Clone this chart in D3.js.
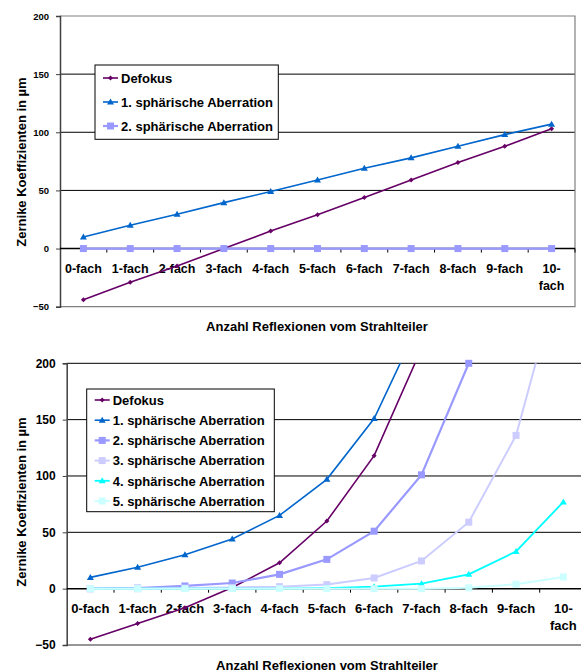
<!DOCTYPE html>
<meta charset="utf-8">
<html>
<script src="https://d3js.org/d3.v7.min.js"></script>
<style>
  body { margin: 0; background: #fff; }
  text { font-family: "Liberation Sans", Arial, sans-serif; font-weight: bold; fill: #000; }
</style>
<body>
<div id="chart"></div>
<script>

// categories on the x axis
var categories = ["0-fach", "1-fach", "2-fach", "3-fach", "4-fach", "5-fach",
                  "6-fach", "7-fach", "8-fach", "9-fach", "10-fach"];
var yTicks = [-50, 0, 50, 100, 150, 200];

// upper chart
var top_defokus = [-44, -29, -15, 0, 15, 29, 44, 59, 74, 88, 103];
var top_sph1    = [10, 20, 29.5, 39.5, 49, 59, 69, 78, 88, 98, 107];
var top_sph2    = [0, 0, 0, 0, 0, 0, 0, 0, 0, 0, 0];

// lower chart (values above 200 run out of the plot area)
var bot_defokus = [-45, -31, -17, 1, 23, 60, 118, 213, null, null, null];
var bot_sph1    = [10, 19, 30, 44, 65, 97, 151, 240, null, null, null];
var bot_sph2    = [0, 0.5, 2.4, 5, 12.7, 26, 51, 101, 200, null, null];
var bot_sph3    = [0, 0, 0.5, 1, 1.8, 3.6, 9.5, 24.6, 59, 136, 290];
var bot_sph4    = [0, 0, 0, 0, 0, 0.5, 1.8, 4.4, 12.7, 33, 77];
var bot_sph5    = [0, 0, 0, 0, 0, 0, 0, 0, 0.8, 3.9, 10.4];

var seriesNames = ["Defokus", "1. sphärische Aberration", "2. sphärische Aberration",
                   "3. sphärische Aberration", "4. sphärische Aberration", "5. sphärische Aberration"];

var colors = ["#660066", "#0066cc", "#9999ff", "#ccccff", "#00ffff", "#ccffff"];
var markers = ["diamond", "triangle", "square", "square", "triangle", "square"];
var widths = [1.6, 1.6, 2.2, 2, 1.8, 2];

var svg = d3.select("#chart").append("svg")
    .attr("width", 581)
    .attr("height", 671);

function marker(g, type, x, y, color) {
  if (type == "square") {
    g.append("rect").attr("x", x - 3.5).attr("y", y - 3.5)
      .attr("width", 7).attr("height", 7).attr("fill", color);
  } else if (type == "triangle") {
    g.append("path").attr("d", "M" + x + "," + (y - 3.5) + "L" + (x + 3.5) + "," + (y + 2.5) + "L" + (x - 3.5) + "," + (y + 2.5) + "Z")
      .attr("fill", color);
  } else {
    g.append("path").attr("d", "M" + x + "," + (y - 2.5) + "L" + (x + 2.5) + "," + y + "L" + x + "," + (y + 2.5) + "L" + (x - 2.5) + "," + y + "Z")
      .attr("fill", color);
  }
}

function drawChart(c) {
  var g = svg.append("g");

  var x = d3.scaleBand().domain(categories).range([c.left, c.right]);
  var y = d3.scaleLinear().domain([-50, 200]).range([c.bottom, c.top]);

  // gridlines
  g.selectAll("line.grid")
    .data([50, 100, 150].concat(c.topGrid ? [200] : []))
    .enter().append("line")
      .attr("x1", c.left).attr("x2", c.right)
      .attr("y1", function(d) { return y(d); }).attr("y2", function(d) { return y(d); })
      .attr("stroke", "#000").attr("stroke-width", 1);

  // plot frame
  if (c.frame) {
    g.append("path")
      .attr("d", "M" + c.left + "," + y(200) + "H" + c.right + "V" + y(-50) + "H" + c.left)
      .attr("fill", "none").attr("stroke", "#808080").attr("stroke-width", 1.2);
  } else {
    g.append("line").attr("x1", c.left).attr("x2", c.right)
      .attr("y1", y(-50)).attr("y2", y(-50)).attr("stroke", "#303030").attr("stroke-width", 1.2);
  }

  // y axis
  var yAxis = g.append("g")
    .attr("transform", "translate(" + c.left + ",0)")
    .call(d3.axisLeft(y).tickValues(yTicks).tickSize(4).tickPadding(c.yPad));
  yAxis.select(".domain").attr("stroke", "#404040").attr("stroke-width", 1.5);
  yAxis.selectAll(".tick line").attr("stroke", "#404040");
  yAxis.selectAll("text").style("font-size", c.yFont + "px").attr("fill", "#000");

  // x axis at zero
  var zero = y(0);
  g.append("line").attr("x1", c.left).attr("x2", c.right)
    .attr("y1", zero).attr("y2", zero).attr("stroke", "#000").attr("stroke-width", 1.5);
  g.selectAll("line.xtick")
    .data(categories.slice(1).concat(["end"]))
    .enter().append("line")
      .attr("x1", function(d, i) { return c.left + x.step() * (i + 1); })
      .attr("x2", function(d, i) { return c.left + x.step() * (i + 1); })
      .attr("y1", zero).attr("y2", zero + 4)
      .attr("stroke", "#000");

  categories.forEach(function(cat) {
    var cx = x(cat) + x.bandwidth() / 2;
    var t = g.append("text")
      .attr("x", cx).attr("y", zero + c.labelDy)
      .attr("text-anchor", "middle")
      .style("font-size", c.xFont + "px");
    if (cat == "10-fach") {
      t.append("tspan").attr("x", cx).text("10-");
      t.append("tspan").attr("x", cx).attr("dy", 17).text("fach");
    } else {
      t.text(cat);
    }
  });

  // titles
  g.append("text")
    .attr("x", c.xTitleX).attr("y", c.xTitleY)
    .attr("text-anchor", "middle")
    .style("font-size", "13px")
    .text("Anzahl Reflexionen vom Strahlteiler");

  g.append("text")
    .attr("transform", "translate(" + c.yTitleX + "," + c.yTitleY + ") rotate(-90)")
    .attr("text-anchor", "middle")
    .style("font-size", "13px")
    .text("Zernike Koeffizienten in µm");

  // series
  var clipId = "clip" + c.id;
  svg.append("clipPath").attr("id", clipId)
    .append("rect").attr("x", c.left).attr("y", c.top)
    .attr("width", c.right - c.left).attr("height", c.bottom - c.top);

  var line = d3.line()
    .defined(function(d) { return d.v != null; })
    .x(function(d) { return x(d.cat) + x.bandwidth() / 2; })
    .y(function(d) { return y(d.v); });

  c.series.forEach(function(s, k) {
    var pts = s.map(function(v, i) { return {cat: categories[i], v: v}; });
    g.append("path")
      .datum(pts)
      .attr("clip-path", "url(#" + clipId + ")")
      .attr("d", line)
      .attr("fill", "none")
      .attr("stroke", colors[k])
      .attr("stroke-width", widths[k]);
    pts.forEach(function(p) {
      if (p.v != null && p.v <= 200) {
        marker(g, markers[k], x(p.cat) + x.bandwidth() / 2, y(p.v), colors[k]);
      }
    });
  });

  // legend
  var lg = g.append("g");
  lg.append("rect")
    .attr("x", c.legend.x).attr("y", c.legend.y)
    .attr("width", c.legend.w).attr("height", c.legend.h)
    .attr("fill", "#fff").attr("stroke", "#000").attr("stroke-width", 1);
  c.series.forEach(function(s, k) {
    var ly = c.legend.first + k * c.legend.step;
    var lx = c.legend.x + 8;
    lg.append("line").attr("x1", lx).attr("x2", lx + 15)
      .attr("y1", ly).attr("y2", ly)
      .attr("stroke", colors[k]).attr("stroke-width", widths[k]);
    marker(lg, markers[k], lx + 7.5, ly, colors[k]);
    lg.append("text")
      .attr("x", lx + 18).attr("y", ly + 4.7)
      .style("font-size", "13px")
      .text(seriesNames[k]);
  });
}

drawChart({
  id: 1, left: 60, right: 575, top: 16, bottom: 306.7,
  frame: true, topGrid: false, yFont: 9.5, yPad: 7, xFont: 12.5, labelDy: 24,
  xTitleX: 317, xTitleY: 330.5, yTitleX: 26, yTitleY: 162,
  series: [top_defokus, top_sph1, top_sph2],
  legend: {x: 95, y: 65, w: 183.3, h: 74.3, first: 78, step: 24}
});

drawChart({
  id: 2, left: 66.7, right: 587, top: 363.3, bottom: 645,
  frame: false, topGrid: true, yFont: 12, yPad: 7, xFont: 13, labelDy: 24.5,
  xTitleX: 327, xTitleY: 669.5, yTitleX: 26, yTitleY: 502,
  series: [bot_defokus, bot_sph1, bot_sph2, bot_sph3, bot_sph4, bot_sph5],
  legend: {x: 86.7, y: 389, w: 187.6, h: 122.7, first: 400, step: 20.2}
});

</script>
</body>
</html>
